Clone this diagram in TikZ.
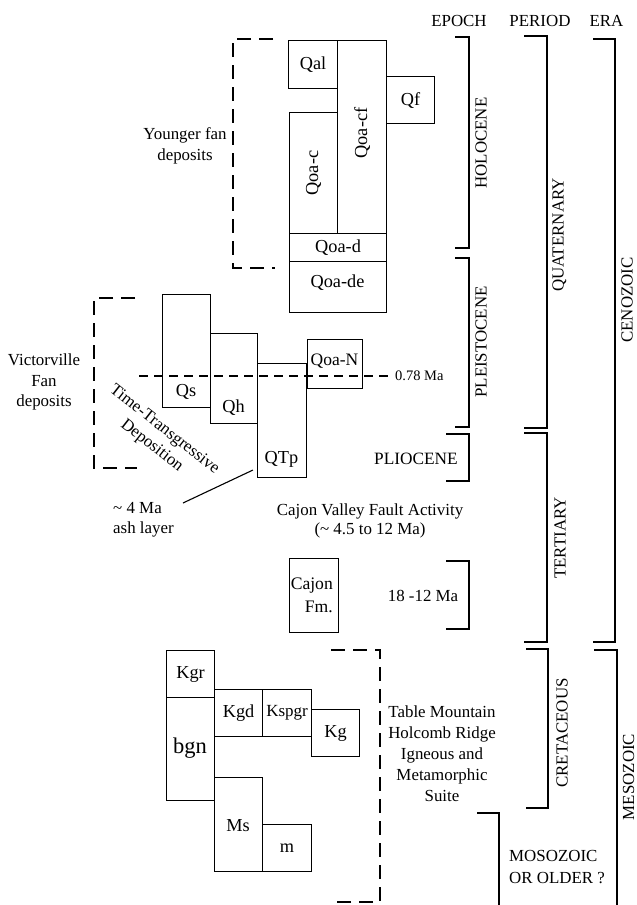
\documentclass[tikz,border=0pt]{standalone}
\usepackage{fontspec}
\setmainfont{Liberation Serif}
\begin{document}
\begin{tikzpicture}[x=1pt,y=-1pt,
  font=\fontsize{16.9}{20.5}\selectfont,
  box/.style={draw, line width=1.1pt, inner sep=0pt, anchor=north west, font=\fontsize{18.3}{21}\selectfont},
  brk/.style={line width=1.3pt},
  dsh/.style={line width=1.2pt, dash pattern=on 14pt off 8pt},
  dshfine/.style={line width=1.1pt, dash pattern=on 9pt off 6pt},
  lbl/.style={inner sep=0pt},
  blbl/.style={inner sep=0pt, font=\fontsize{18.3}{21}\selectfont}]
\useasboundingbox (0,0) rectangle (637,905);

% ---------- Holocene / Pleistocene boxes ----------
\node[box, minimum width=49pt, minimum height=48pt]  (qal)   at (288,40)  {Qal};
\node[box, minimum width=49pt, minimum height=193pt] (qoacf) at (337,40)  {};
\node[blbl, rotate=90] (lqoacf) at ([yshift=4pt]qoacf.center) {Qoa-cf};
\node[box, minimum width=48pt, minimum height=47pt]  (qf)    at (386,76)  {Qf};
\node[box, minimum width=48pt, minimum height=121pt] (qoac)  at (289,112) {};
\node[blbl, rotate=90] (lqoac) at (qoac.center) {Qoa-c};
\node[box, minimum width=97pt, minimum height=28pt]  (qoad)  at (289,233) {Qoa-d};
\node[box, minimum width=97pt, minimum height=51pt]  (qoade) at (289,261) {};
\node[blbl] (lqoade) at (337.5,283) {Qoa-de};

\node[box, minimum width=48pt, minimum height=113pt] (qs)  at (162,294) {};
\node[blbl] (lqs) at (186,392) {Qs};
\node[box, minimum width=47pt, minimum height=90pt]  (qh)  at (210,333) {};
\node[blbl] (lqh) at (233.5,408) {Qh};
\node[box, minimum width=49pt, minimum height=114pt] (qtp) at (257,363) {};
\node[blbl] (lqtp) at (281.5,459) {QTp};
\node[box, minimum width=55pt, minimum height=49pt]  (qoan) at (307,339) {};
\node[blbl, font=\fontsize{17.5}{20}\selectfont] (lqoan) at (334.5,361) {Qoa-N};

% 0.78 Ma line
\coordinate (maL) at (139,376);
\coordinate (maR) at (388,376);
\draw[dshfine] (maL) -- (maR);
\node[lbl, anchor=west, font=\fontsize{14.5}{17}\selectfont] (ma) at (395,376) {0.78 Ma};

% dashed groupings
\draw[dsh] (273,39) -- (233,39) -- (233,268) -- (275,268);
\node[lbl, align=center] (yfan) at (185,146) {Younger fan\\deposits};
\draw[dsh] (135,298) -- (94,298) -- (94,468) -- (137,468);
\node[lbl, align=center] (vict) at (44,382) {Victorville\\Fan\\deposits};
\node[lbl, align=center, rotate=-38] (ttd) at (158,438) {Time-Transgressive\\Deposition};

% ash layer
\coordinate (ashA) at (253,470);
\coordinate (ashB) at (183,503);
\draw[line width=1.1pt] (ashA) -- (ashB);
\node[lbl, align=left, anchor=west] (ash) at (113,520) {\textasciitilde{} 4 Ma\\ash layer};

% Cajon
\node[lbl, align=center, font=\fontsize{16.9}{19}\selectfont] (cvfa) at (370,521) {Cajon Valley Fault Activity\\(\textasciitilde{} 4.5 to 12 Ma)};
\node[box, minimum width=49pt, minimum height=74pt] (cajon) at (289,558) {};
\node[lbl, align=right, anchor=east, font=\fontsize{17.6}{22.5}\selectfont] (lcajon) at (333,595.5) {Cajon\\Fm.};

% Basement boxes
\node[box, minimum width=48pt, minimum height=47pt]  (kgr)   at (166,650) {Kgr};
\node[box, minimum width=48pt, minimum height=103pt] (bgn)   at (166,697) {};
\node[lbl, font=\fontsize{22.5}{26}\selectfont] (lbgn) at (190,748) {bgn};
\node[box, minimum width=48pt, minimum height=47pt]  (kgd)   at (214,689) {Kgd};
\node[box, minimum width=49pt, minimum height=47pt, font=\fontsize{17}{20}\selectfont]  (kspgr) at (262,689) {Kspgr};
\node[box, minimum width=48pt, minimum height=47pt]  (kg)    at (311,709) {Kg};
\node[box, minimum width=48pt, minimum height=94pt]  (ms)    at (214,777) {};
\node[blbl] (lms) at (238,826) {Ms};
\node[box, minimum width=49pt, minimum height=47pt]  (m)     at (262,824) {m};

\draw[dsh] (331,650) -- (380,650) -- (380,902) -- (330,902);
\node[lbl, align=center, font=\fontsize{16.9}{21}\selectfont] (tmh) at (442,754) {Table Mountain\\Holcomb Ridge\\Igneous and\\Metamorphic\\Suite};

% ---------- headers ----------
\node[lbl] (hep) at (459,21) {EPOCH};
\node[lbl] (hpe) at (540,21) {PERIOD};
\node[lbl] (her) at (606.5,21) {ERA};

% epoch brackets
\draw[brk] (455,37) -- (469,37) -- (469,248) -- (455,248);
\node[lbl, rotate=90] (holo) at (481,143) {HOLOCENE};
\draw[brk] (455,258) -- (469,258) -- (469,427) -- (455,427);
\node[lbl, rotate=90] (pleis) at (481,342) {PLEISTOCENE};
\draw[brk] (446,434) -- (469,434) -- (469,481) -- (446,481);
\node[lbl, font=\fontsize{17.3}{20}\selectfont] (plio) at (416,459) {PLIOCENE};
\draw[brk] (446,561) -- (469,561) -- (469,629) -- (446,629);
\node[lbl] (mio) at (423,596) {18 -12 Ma};
\draw[brk] (477,813) -- (499,813) -- (499,905);
\node[lbl, align=left, anchor=west, font=\fontsize{16.9}{21.5}\selectfont] (moso) at (509,867) {MOSOZOIC\\OR OLDER ?};

% period brackets
\draw[brk] (524,36) -- (547,36) -- (547,428) -- (524,428);
\node[lbl, rotate=90] (quat) at (559.5,235) {QUATERNARY};
\draw[brk] (524,433) -- (547,433) -- (547,642) -- (524,642);
\node[lbl, rotate=90] (tert) at (560,538) {TERTIARY};
\draw[brk] (526,649) -- (548,649) -- (548,808) -- (526,808);
\node[lbl, rotate=90] (cret) at (562,733) {CRETACEOUS};

% era brackets
\draw[brk] (593,39) -- (615,39) -- (615,642) -- (593,642);
\node[lbl, rotate=90] (ceno) at (627,300) {CENOZOIC};
\draw[brk] (594,650) -- (617,650) -- (617,905);
\node[lbl, rotate=90] (meso) at (628.5,777) {MESOZOIC};
\end{tikzpicture}
\end{document}
